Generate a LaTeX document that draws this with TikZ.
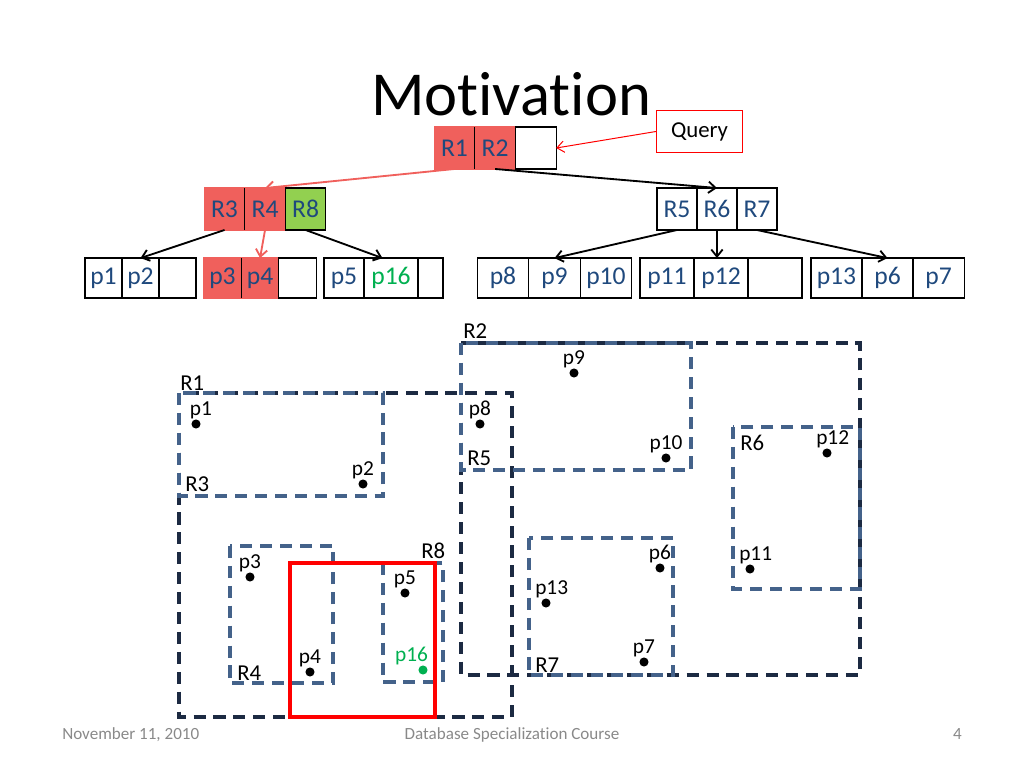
\documentclass[tikz,border=0pt]{standalone}
\definecolor{hitred}{RGB}{240,96,92}
\definecolor{hitgreen}{RGB}{146,208,80}
\definecolor{textnavy}{RGB}{31,73,125}
\definecolor{boxnavy}{RGB}{28,42,66}
\definecolor{boxslate}{RGB}{68,98,138}
\definecolor{newgreen}{RGB}{0,176,80}
\definecolor{footgray}{RGB}{137,137,137}
\usepackage{fontspec}
\setmainfont[Ligatures=NoCommon]{Carlito}
\usepackage{tikz}
\usetikzlibrary{arrows.meta, positioning}

\begin{document}
\begin{tikzpicture}[x=0.703pt, y=-0.703pt,
        cell/.style={draw, line width=0.9pt, minimum width=#1, minimum height=29.5pt,
                     inner sep=0pt, outer sep=0pt, text=textnavy,
                     font=\fontsize{18}{22}\selectfont},
        cell/.default=28.6pt,
        leaf/.style={cell=#1, minimum height=28pt},
        hit/.style={fill=hitred, draw=hitred},
        arr/.style={-{Straight Barb[length=5pt, width=8pt]}, line width=1.3pt},
        hitarr/.style={arr, hitred},
        qarr/.style={-{Straight Barb[length=5pt, width=8pt]}, line width=0.7pt, red},
        outerbox/.style={draw=boxnavy, line width=2.4pt, dash pattern=on 8.5pt off 5.5pt},
        innerbox/.style={draw=boxslate, line width=2.4pt, dash pattern=on 8.5pt off 5.5pt},
        rlabel/.style={anchor=base west, inner sep=0pt, font=\fontsize{16}{19}\selectfont},
        plabel/.style={inner sep=0pt, font=\fontsize{15}{18}\selectfont},
        dot/.style={circle, fill=black, inner sep=0pt, minimum size=6.4pt,
                    label distance=3.5pt},
        foot/.style={text=footgray, inner sep=0pt, font=\fontsize{12}{14}\selectfont}
      ]
        \useasboundingbox (0,0) rectangle (1024,768);

        \node[anchor=base, inner sep=0pt, font=\fontsize{44}{50}\selectfont] (title)
          at (511,115) {Motivation};

        \node[cell, hit] (r1) at (454.5,148) {R1};
        \node[cell, hit, right=0pt of r1] (r2) {R2};
        \node[cell, right=0pt of r2] (root3) {};
        \draw[line width=0.9pt] (r1.north east) -- (r1.south east);
        \node[draw=red, line width=0.7pt, minimum width=60.5pt, minimum height=29.5pt,
              font=\fontsize{16}{19}\selectfont] (query) at (699.5,131.5) {Query};

        \node[cell=28.5pt, hit] (r3) at (224.5,209) {R3};
        \node[cell=28.5pt, hit, right=0pt of r3] (r4) {R4};
        \node[cell=28.5pt, fill=hitgreen, right=0pt of r4] (r8) {R8};
        \draw[line width=0.9pt] (r3.north east) -- (r3.south east);
        \node[cell=28.1pt] (r5) at (677,209) {R5};
        \node[cell=28.1pt, right=0pt of r5] (r6) {R6};
        \node[cell=28.1pt, right=0pt of r6] (r7) {R7};

        \node[leaf=26pt] (p1) at (103.5,278) {p1};
        \node[leaf=26pt, right=0pt of p1] (p2) {p2};
        \node[leaf=26pt, right=0pt of p2] (leafa) {};
        \node[leaf=26.4pt, hit] (p3) at (222.5,278) {p3};
        \node[leaf=26.4pt, hit, right=0pt of p3] (p4) {p4};
        \node[leaf=26.4pt, right=0pt of p4] (leafb) {};
        \draw[line width=0.9pt] (p3.north east) -- (p3.south east);
        \node[leaf=28.1pt] (p5) at (344,278) {p5};
        \node[leaf=38pt, text=newgreen, right=0pt of p5] (p16) {p16};
        \node[leaf=17.6pt, right=0pt of p16] (leafc) {};
        \node[leaf=36.2pt] (p8) at (503,278) {p8};
        \node[leaf=36.2pt, right=0pt of p8] (p9) {p9};
        \node[leaf=36.2pt, right=0pt of p9] (p10) {p10};
        \node[leaf=38pt] (p11) at (667,278) {p11};
        \node[leaf=38pt, right=0pt of p11] (p12) {p12};
        \node[leaf=38pt, right=0pt of p12] (leafd) {};
        \node[leaf=35.9pt] (p13) at (836.5,278) {p13};
        \node[leaf=35.9pt, right=0pt of p13] (p6) {p6};
        \node[leaf=35.9pt, right=0pt of p6] (p7) {p7};

        \draw[qarr] (query.west) -- (root3.east);
        \draw[hitarr] (r1.south) -- (r4.north);
        \draw[arr] (r2.south) -- (r6.north);
        \draw[arr] (r3.south) -- (p2.north);
        \draw[hitarr] (r4.south) -- (p4.north);
        \draw[arr] (r8.south) -- ([xshift=-6pt]p16.north);
        \draw[arr] (r5.south) -- (p9.north);
        \draw[arr] (r6.south) -- (r6.south |- p12.north);
        \draw[arr] (r7.south) -- (p6.north);

        \draw[outerbox] (179,393) rectangle (512,717);
        \draw[outerbox] (461,343) rectangle (860,675);
        \draw[innerbox] (179,393) rectangle (383,496);
        \draw[innerbox] (230,546) rectangle (333,683);
        \draw[innerbox] (383,563) rectangle (443,682);
        \draw[innerbox] (461,343) rectangle (691,470);
        \draw[innerbox] (733,427) rectangle (860,589);
        \draw[innerbox] (529,538) rectangle (673,675);
        \draw[red, line width=2.6pt] (290,563) rectangle (435,717);

        \node[rlabel] (labr1) at (180,390) {R1};
        \node[rlabel] (labr2) at (463,338) {R2};
        \node[rlabel] (labr3) at (185,491) {R3};
        \node[rlabel] (labr4) at (237,680) {R4};
        \node[rlabel] (labr5) at (467,465) {R5};
        \node[rlabel] (labr6) at (740,450) {R6};
        \node[rlabel] (labr7) at (535,672) {R7};
        \node[rlabel] (labr8) at (421,558) {R8};

        \node[dot, label={[plabel, xshift=3.5pt]above:p1}] (dot1) at (196,424) {};
        \node[dot, label={[plabel]above:p2}] (dot2) at (363,484) {};
        \node[dot, label={[plabel]above:p3}] (dot3) at (250,577) {};
        \node[dot, label={[plabel]above:p4}] (dot4) at (310,672) {};
        \node[dot, label={[plabel]above:p5}] (dot5) at (405,593) {};
        \node[dot, fill=newgreen, label={[plabel, text=newgreen, xshift=-8pt]above:p16}]
          (dot16) at (423,670) {};
        \node[dot, label={[plabel]above:p8}] (dot8) at (480,424) {};
        \node[dot, label={[plabel]above:p9}] (dot9) at (574,373) {};
        \node[dot, label={[plabel]above:p10}] (dot10) at (666,458) {};
        \node[dot, label={[plabel, xshift=4pt]above:p11}] (dot11) at (750,569) {};
        \node[dot, label={[plabel, xshift=4pt]above:p12}] (dot12) at (827,453) {};
        \node[dot, label={[plabel, xshift=4pt]above:p13}] (dot13) at (546,603) {};
        \node[dot, label={[plabel]above:p6}] (dot6) at (660,568) {};
        \node[dot, label={[plabel]above:p7}] (dot7) at (644,662) {};

        \node[foot, anchor=base west] (date) at (62,739) {November 11, 2010};
        \node[foot, anchor=base] (course) at (512,739) {Database Specialization Course};
        \node[foot, anchor=base east] (page) at (962,739) {4};
      \end{tikzpicture}
\end{document}
